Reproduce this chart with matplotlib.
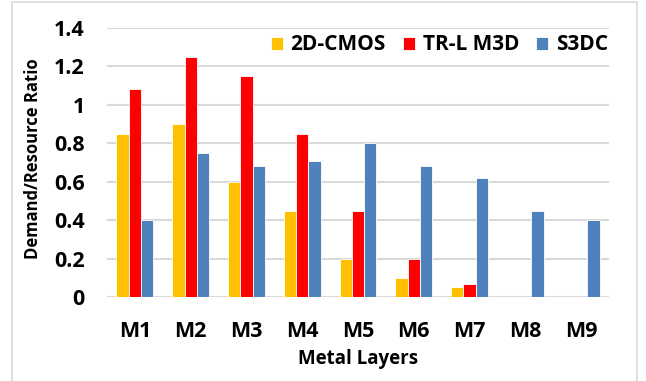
import numpy as np
import matplotlib
matplotlib.use('Agg')
import matplotlib.pyplot as plt
from matplotlib.patches import Rectangle

plt.rcParams['font.family'] = ['Open Sans', 'DejaVu Sans']
plt.rcParams['font.weight'] = 'bold'

layers = ["M1", "M2", "M3", "M4", "M5", "M6", "M7", "M8", "M9"]
cmos_2d = [0.85, 0.90, 0.60, 0.45, 0.20, 0.10, 0.05, 0.0, 0.0]
trl_m3d = [1.08, 1.25, 1.15, 0.85, 0.45, 0.20, 0.07, 0.0, 0.0]
s3dc = [0.40, 0.75, 0.68, 0.71, 0.80, 0.68, 0.62, 0.45, 0.40]
series = ["2D-CMOS", "TR-L M3D", "S3DC"]
colors = ["#FFC000", "#FF0000", "#4F81BD"]

fig = plt.figure(figsize=(6.46, 3.81), dpi=100)
W, H = 646, 381
ax = fig.add_axes([107 / W, 1 - 297 / H, (609 - 107) / W, (297 - 28) / H])

x = np.arange(len(layers))
bw = 0.22
for k, (vals, name, c) in enumerate(zip([cmos_2d, trl_m3d, s3dc], series, colors)):
    ax.bar(x + (k - 1) * bw, vals, bw, color=c, label=name,
           edgecolor='white', linewidth=0.6, zorder=3)

ax.set_xlim(-0.5, len(layers) - 0.5)
ax.set_ylim(0, 1.4)
ax.set_yticks(np.arange(0, 1.41, 0.2))
ax.set_yticklabels(["0", "0.2", "0.4", "0.6", "0.8", "1", "1.2", "1.4"])
ax.set_xticks(x)
ax.set_xticklabels(layers)
ax.tick_params(axis='y', length=0, pad=16, labelsize=15.5)
ax.tick_params(axis='x', length=0, pad=17, labelsize=15.5)
ax.grid(axis='y', color='#D9D9D9', linewidth=1.5, zorder=0)
for s in ax.spines.values():
    s.set_visible(False)

ax.set_ylabel("Demand/Resource Ratio", fontsize=12, fontweight='bold')
ax.yaxis.set_label_coords(-0.129, 0.515)
ax.set_xlabel("Metal Layers", fontsize=13.5, fontweight='bold', labelpad=5)

ax.legend(loc='center right', ncol=3, frameon=False, fontsize=15,
          handlelength=0.58, handleheight=0.58, handletextpad=0.38,
          columnspacing=0.8, borderaxespad=0, borderpad=0,
          bbox_to_anchor=(0.998, 1 - 17 / 269))

# thin frame around the chart
fig.patches.append(Rectangle((12 / W, -0.01), (637 - 12) / W, 1 - 2 / H + 0.01,
                             transform=fig.transFigure, fill=False,
                             edgecolor='#D9D9D9', linewidth=1.2))

fig.savefig("out.png", dpi=100)
